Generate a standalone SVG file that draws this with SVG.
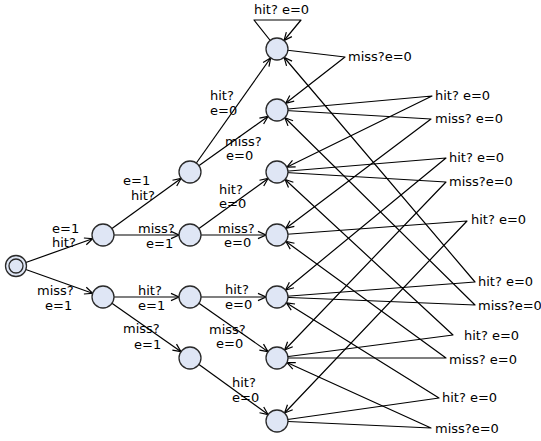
<svg xmlns="http://www.w3.org/2000/svg" width="541" height="441" viewBox="0 0 541 441">
  <style>
    .e { fill: none; stroke: #000; stroke-width: 1.2; stroke-linejoin: round; marker-end: url(#arr); }
    .n { fill: #dfe6f5; stroke: #2a2a2a; stroke-width: 1.3; }
    text { font-family: "DejaVu Sans", "Liberation Sans", sans-serif; font-size: 13px; fill: #000; }
  </style>
  <defs>
    <marker id="arr" markerUnits="userSpaceOnUse" orient="auto" refX="11" refY="0" markerWidth="20" markerHeight="20" overflow="visible">
      <path d="M-8,-3.6 L0,0 L-8,3.6" fill="none" stroke="#000" stroke-width="1.2"/>
    </marker>
  </defs>

  <!-- transitions -->
  <g id="connectors">
    <path class="e" d="M16 266 L103 235"/>
    <path class="e" d="M16 266 L103 297"/>
    <path class="e" d="M103 235 L190 172"/>
    <path class="e" d="M103 235 L190 235"/>
    <path class="e" d="M103 297 L190 297"/>
    <path class="e" d="M103 297 L190 358"/>
    <path class="e" d="M190 172 L277 49"/>
    <path class="e" d="M190 172 L277 110"/>
    <path class="e" d="M190 235 L277 172"/>
    <path class="e" d="M190 235 L277 235"/>
    <path class="e" d="M190 297 L277 297"/>
    <path class="e" d="M190 297 L277 358"/>
    <path class="e" d="M190 358 L277 421"/>
    <!-- self loop on the all-hit state -->
    <path class="e" d="M277 49 L254 20 L301 20 L277 49"/>
    <!-- history shift transitions -->
    <path class="e" d="M277 49 L345 57 L277 110"/>
    <path class="e" d="M277 110 L432 96 L277 172"/>
    <path class="e" d="M277 110 L431 119 L277 235"/>
    <path class="e" d="M277 172 L446 158 L277 297"/>
    <path class="e" d="M277 172 L446 182 L277 358"/>
    <path class="e" d="M277 235 L467 221 L277 421"/>
    <path class="e" d="M277 297 L475 282 L277 49"/>
    <path class="e" d="M277 297 L475 305 L277 110"/>
    <path class="e" d="M277 358 L453 335 L277 172"/>
    <path class="e" d="M277 358 L446 358 L277 235"/>
    <path class="e" d="M277 421 L439 398 L277 297"/>
    <path class="e" d="M277 421 L431 428 L277 358"/>
  </g>

  <!-- transition labels -->
  <g id="labels">
    <text x="52" y="233">e=1</text><text x="52" y="247">hit?</text>
    <text x="37" y="295">miss?</text><text x="45" y="310">e=1</text>
    <text x="123" y="185">e=1</text><text x="131" y="200">hit?</text>
    <text x="138" y="233">miss?</text><text x="146" y="248">e=1</text>
    <text x="138" y="295">hit?</text><text x="138" y="310">e=1</text>
    <text x="123" y="333">miss?</text><text x="134" y="349">e=1</text>
    <text x="210" y="100">hit?</text><text x="210" y="115">e=0</text>
    <text x="225" y="146">miss?</text><text x="226" y="160">e=0</text>
    <text x="219" y="194">hit?</text><text x="219" y="208">e=0</text>
    <text x="218" y="233">miss?</text><text x="224" y="247">e=0</text>
    <text x="225" y="294">hit?</text><text x="225" y="309">e=0</text>
    <text x="209" y="334">miss?</text><text x="216" y="348">e=0</text>
    <text x="232" y="387">hit?</text><text x="232" y="402">e=0</text>
    <text x="254" y="14">hit? e=0</text>
    <text x="348" y="61">miss?e=0</text>
    <text x="435" y="100">hit? e=0</text>
    <text x="435" y="123">miss? e=0</text>
    <text x="449" y="162">hit? e=0</text>
    <text x="449" y="186">miss?e=0</text>
    <text x="471" y="224">hit? e=0</text>
    <text x="478" y="286">hit? e=0</text>
    <text x="478" y="310">miss?e=0</text>
    <text x="464" y="340">hit? e=0</text>
    <text x="449" y="364">miss? e=0</text>
    <text x="442" y="402">hit? e=0</text>
    <text x="435" y="433">miss?e=0</text>
  </g>

  <!-- locations -->
  <g id="init"><circle class="n" cx="16" cy="266" r="10.5"/><circle class="n" cx="16" cy="266" r="7"/></g>
  <g id="h"><circle class="n" cx="103" cy="235" r="11"/></g>
  <g id="m"><circle class="n" cx="103" cy="297" r="11"/></g>
  <g id="hh"><circle class="n" cx="190" cy="172" r="11"/></g>
  <g id="hm"><circle class="n" cx="190" cy="235" r="11"/></g>
  <g id="mh"><circle class="n" cx="190" cy="297" r="11"/></g>
  <g id="mm"><circle class="n" cx="190" cy="358" r="11"/></g>
  <g id="hhh"><circle class="n" cx="277" cy="49" r="11"/></g>
  <g id="hhm"><circle class="n" cx="277" cy="110" r="11"/></g>
  <g id="hmh"><circle class="n" cx="277" cy="172" r="11"/></g>
  <g id="hmm"><circle class="n" cx="277" cy="235" r="11"/></g>
  <g id="mhh"><circle class="n" cx="277" cy="297" r="11"/></g>
  <g id="mhm"><circle class="n" cx="277" cy="358" r="11"/></g>
  <g id="mmh"><circle class="n" cx="277" cy="421" r="11"/></g>
</svg>
